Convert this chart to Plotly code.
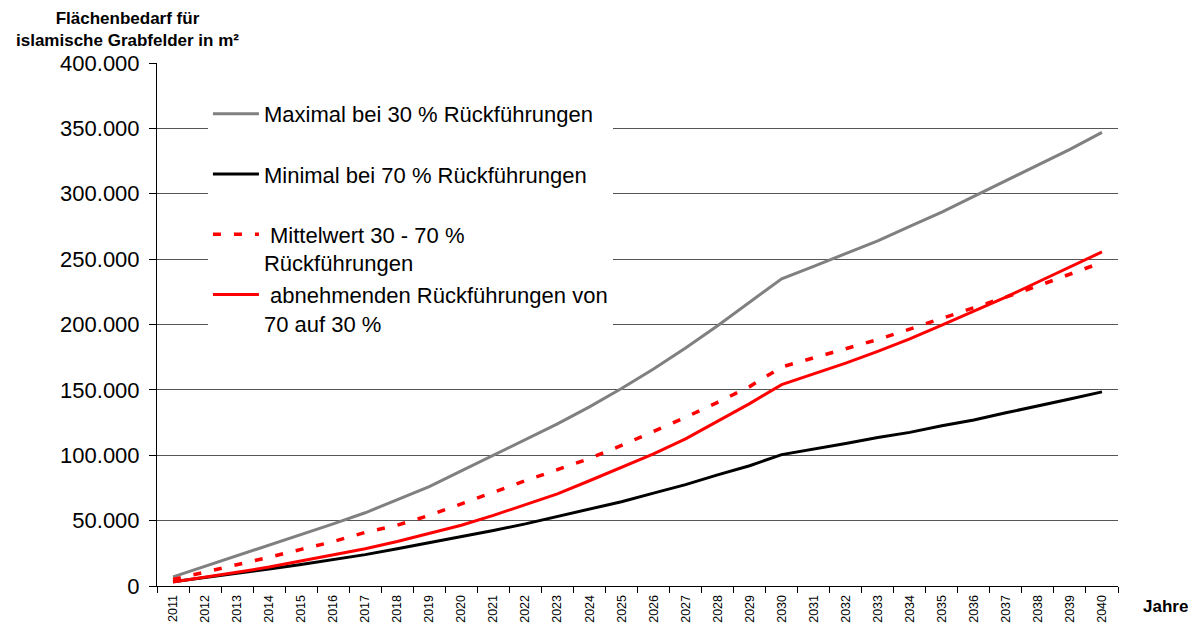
import plotly.graph_objects as go

years = ["2011", "2012", "2013", "2014", "2015", "2016", "2017", "2018", "2019", "2020",
         "2021", "2022", "2023", "2024", "2025", "2026", "2027", "2028", "2029", "2030",
         "2031", "2032", "2033", "2034", "2035", "2036", "2037", "2038", "2039", "2040"]

maximal = [7000, 15000, 23000, 31000, 39000, 47500, 56000, 66000, 76000, 88000,
           100000, 112000, 124000, 137000, 151000, 166000, 182000, 199000, 217000, 235000,
           244500, 254000, 264000, 275000, 286000, 298000, 310000, 322000, 334000, 347000]

minimal = [3300, 6500, 9500, 13000, 16500, 20000, 24000, 28500, 33000, 38000,
           42500, 47500, 53000, 58500, 64500, 71000, 77500, 85000, 92000, 100500,
           104500, 109000, 113500, 117500, 122500, 127000, 132500, 137500, 143000, 148500]

mittelwert = [5000, 10500, 16000, 22000, 28000, 34000, 41000, 46500, 54000, 63000,
              71500, 80500, 89000, 97500, 107500, 118000, 129000, 140500, 152500, 167500,
              174500, 181500, 188500, 196500, 204500, 212500, 221000, 229500, 238500, 247500]

abnehmend = [3000, 6500, 10500, 14500, 19000, 23500, 28500, 34000, 40500, 46500,
             54000, 62000, 70500, 80500, 90500, 101000, 112500, 126000, 139500, 154000,
             162000, 170500, 179500, 189000, 199500, 210000, 221000, 232500, 244000, 255500]

names = [
    "Maximal bei 30 % Rückführungen<br>\u00a0",
    "Minimal bei 70 % Rückführungen<br>\u00a0",
    "\u00a0Mittelwert 30 - 70 %<br>Rückführungen",
    "\u00a0abnehmenden Rückführungen von<br>70 auf 30 %",
]

FONT = "Liberation Sans, Arial, sans-serif"

fig = go.Figure()
fig.add_trace(go.Scatter(x=years, y=maximal, mode="lines", name=names[0], legendgroup="a",
                         line=dict(color="#808080", width=3)))
fig.add_trace(go.Scatter(x=years, y=minimal, mode="lines", name=names[1], legendgroup="b",
                         line=dict(color="#000000", width=3)))
fig.add_trace(go.Scatter(x=years, y=mittelwert, mode="lines", name=names[2], legendgroup="c",
                         line=dict(color="#FF0000", width=3.5, dash="8px,13px")))
fig.add_trace(go.Scatter(x=years, y=abnehmend, mode="lines", name=names[3], legendgroup="d",
                         line=dict(color="#FF0000", width=3)))

# page body has an 8px default margin, so the figure is 8px smaller and margins shifted
fig.update_layout(
    width=1188, height=617,
    margin=dict(l=149, r=78, t=55, b=39, autoexpand=False),
    paper_bgcolor="white", plot_bgcolor="white",
    separators=",.",
    font=dict(family=FONT, color="black"),
    showlegend=True,
    legend=dict(x=0.053, y=0.9425, xanchor="left", yanchor="top",
                bgcolor="white", borderwidth=0, valign="top", itemwidth=46,
                font=dict(size=22, family=FONT), tracegroupgap=0),
    xaxis=dict(type="category", categoryorder="array", categoryarray=years,
               range=[-0.5, 29.5], tickangle=-90, ticks="outside", tickson="boundaries",
               ticklen=6, tickcolor="black", showline=True, linecolor="black", linewidth=1,
               showgrid=False, tickfont=dict(size=12.5), automargin=False,
               ticklabelstandoff=3),
    yaxis=dict(range=[0, 400000], dtick=50000, tickformat=",d", ticks="outside",
               ticklen=7, tickcolor="black", showline=True, linecolor="black", linewidth=1,
               showgrid=True, gridcolor="#555555", gridwidth=1, zeroline=False,
               tickfont=dict(size=22), automargin=False, ticklabelstandoff=5),
    annotations=[
        dict(text="<b>Flächenbedarf für<br>islamische Grabfelder in m²</b>",
             xref="paper", yref="paper", x=-0.0302, y=1.064, xanchor="center", yanchor="middle",
             showarrow=False, font=dict(size=17, family=FONT)),
        dict(text="<b>Jahre</b>", xref="paper", yref="paper", x=1.049, y=-0.040,
             xanchor="center", yanchor="middle", showarrow=False, font=dict(size=17, family=FONT)),
    ],
)

fig.write_html("out.html")
